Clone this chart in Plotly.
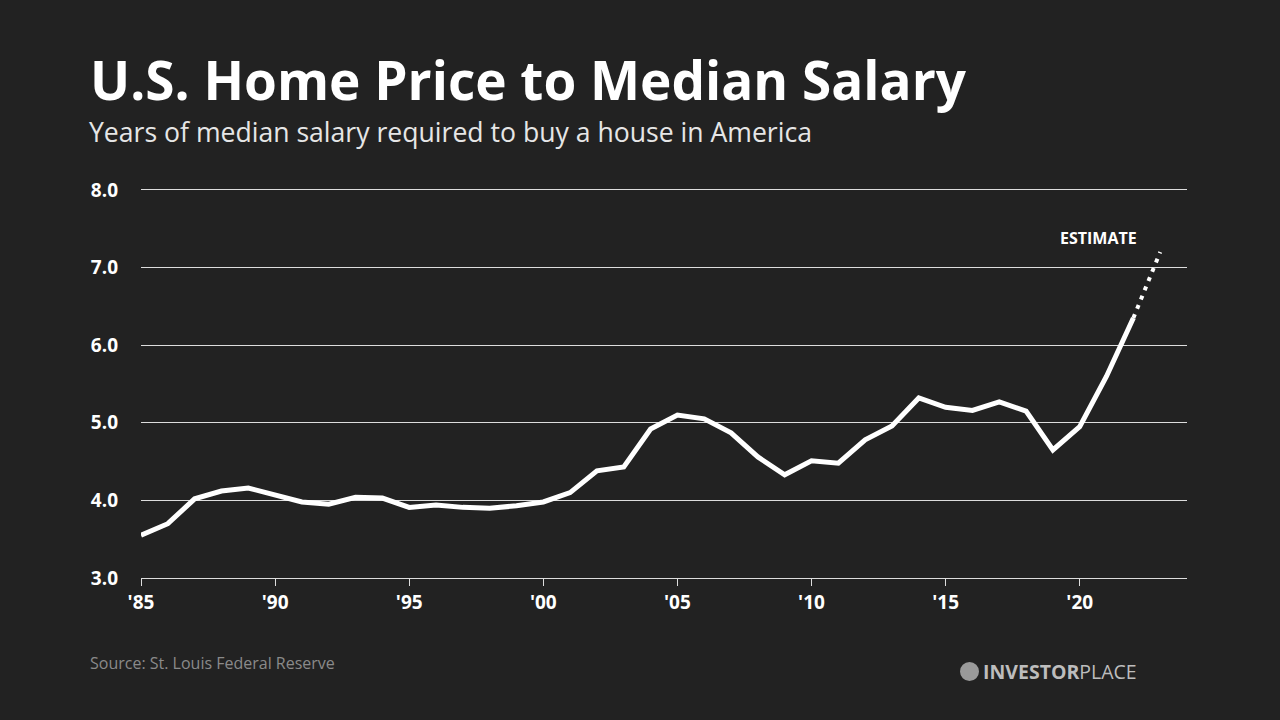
import plotly.graph_objects as go

years = list(range(1985, 2023))
ratio = [3.55, 3.70, 4.02, 4.12, 4.16, 4.07, 3.98, 3.95, 4.04, 4.03,
         3.91, 3.94, 3.91, 3.90, 3.93, 3.98, 4.10, 4.38, 4.43, 4.92,
         5.10, 5.05, 4.87, 4.56, 4.33, 4.51, 4.48, 4.78, 4.96, 5.32,
         5.20, 5.16, 5.27, 5.15, 4.65, 4.95, 5.60, 6.35]
est_years = [2022, 2023]
est_ratio = [6.35, 7.20]

tick_vals = [1985, 1990, 1995, 2000, 2005, 2010, 2015, 2020]
tick_text = ["'85", "'90", "'95", "'00", "'05", "'10", "'15", "'20"]
y_ticks = [3, 4, 5, 6, 7, 8]
y_text = ["3.0", "4.0", "5.0", "6.0", "7.0", "8.0"]

BG = "#222222"
FONT = "Open Sans"

fig = go.Figure()
fig.add_trace(go.Scatter(x=est_years, y=est_ratio, mode="lines",
                         line=dict(color="white", width=4, dash="4px,6px"),
                         hoverinfo="skip", showlegend=False))
fig.add_trace(go.Scatter(x=years, y=ratio, mode="lines",
                         line=dict(color="white", width=5),
                         showlegend=False))

fig.update_layout(
    width=1280, height=720,
    paper_bgcolor=BG, plot_bgcolor=BG,
    margin=dict(l=141, r=93, t=188, b=142),
    font=dict(family=FONT, color="white"),
    xaxis=dict(range=[1985, 2024], tickvals=tick_vals, ticktext=tick_text,
               showgrid=False, zeroline=False, showline=True,
               linecolor="#dddddd", linewidth=1,
               ticks="outside", ticklen=7, tickcolor="#dddddd", tickwidth=1,
               tickfont=dict(family=FONT, size=19, color="white", weight="bold")),
    yaxis=dict(range=[3, 8.025], tickvals=y_ticks, ticktext=y_text,
               showgrid=True, gridcolor="#dddddd", gridwidth=1,
               zeroline=False, showline=False, ticks="",
               ticklabelstandoff=22,
               tickfont=dict(family=FONT, size=19, color="white", weight="bold")),
    annotations=[
        dict(text="U.S. Home Price to Median Salary", xref="paper", yref="paper",
             x=(88 - 141) / 1046, y=(720 - 79 - 142) / 390, xanchor="left", yanchor="middle",
             showarrow=False, font=dict(family=FONT, size=53.1, color="white", weight="bold")),
        dict(text="Years of median salary required to buy a house in America", xref="paper", yref="paper",
             x=(87 - 141) / 1046, y=(720 - 132 - 142) / 390, xanchor="left", yanchor="middle",
             showarrow=False, font=dict(family=FONT, size=26.6, color="#e6e6e6")),
        dict(text="ESTIMATE", xref="x", yref="y", x=2020.7, y=7.38,
             xanchor="center", yanchor="middle", showarrow=False,
             font=dict(family=FONT, size=16, color="white", weight="bold")),
        dict(text="Source: St. Louis Federal Reserve", xref="paper", yref="paper",
             x=(88 - 141) / 1046, y=(720 - 663 - 142) / 390, xanchor="left", yanchor="middle",
             showarrow=False, font=dict(family=FONT, size=16, color="#8a8a8a")),
        dict(text="<b>INVESTOR</b>PLACE", xref="paper", yref="paper",
             x=(981 - 141) / 1046, y=(720 - 671 - 142) / 390, xanchor="left", yanchor="middle",
             showarrow=False, font=dict(family=FONT, size=19.5, color="#bdbdbd")),
    ],
    shapes=[
        dict(type="circle", xref="paper", yref="paper",
             x0=(960 - 141) / 1046, x1=(979 - 141) / 1046,
             y0=(720 - 681 - 142) / 390, y1=(720 - 662 - 142) / 390,
             fillcolor="#9a9a9a", line=dict(width=0)),
    ],
)

fig.write_html("out.html", config={"displayModeBar": False},
               post_script="document.body.style.margin='0';document.body.style.background='#222222';")
